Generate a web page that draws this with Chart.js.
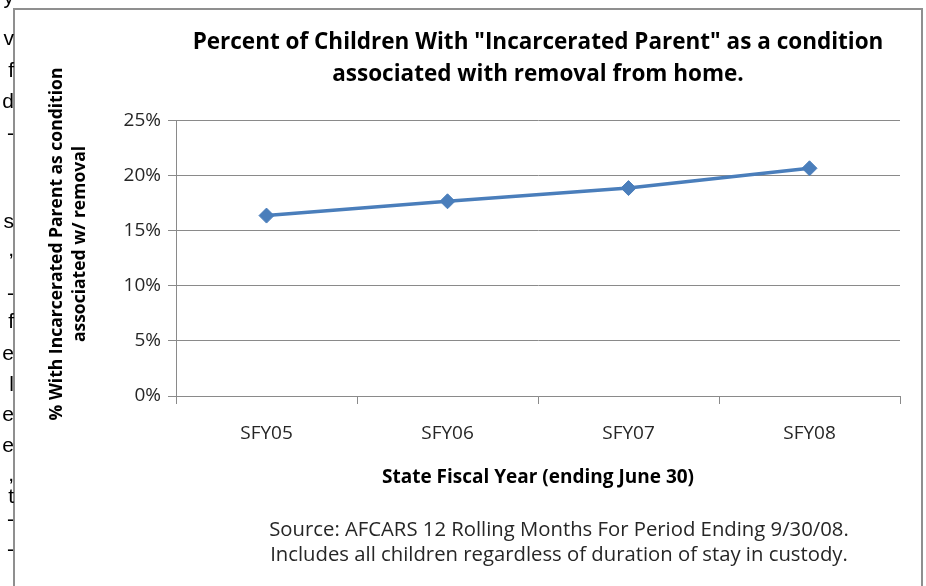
<!DOCTYPE html>
<html>
<head>
<meta charset="utf-8">
<script src="https://cdn.jsdelivr.net/npm/chart.js@4.4.1/dist/chart.umd.min.js"></script>
<style>
html,body{margin:0;padding:0;background:#fff;width:926px;height:586px;overflow:hidden;}
#wrap{position:relative;width:926px;height:586px;}
#c{position:absolute;left:0;top:0;}
#frame{position:absolute;left:13px;top:8px;width:910px;height:620px;border:2px solid #8f8f8f;box-sizing:border-box;pointer-events:none;}
.frag{position:absolute;left:0px;width:14px;text-align:right;font-family:"Liberation Sans",Arial,sans-serif;font-size:21px;line-height:21px;color:#000;}
#source{position:absolute;left:259px;width:600px;top:516px;text-align:center;font-family:"Open Sans",sans-serif;font-size:20.3px;line-height:25px;color:#262626;white-space:nowrap;}
</style>
</head>
<body>
<div id="wrap">
<canvas id="c" width="926" height="586"></canvas>
<div id="frame"></div>
<div id="frags"></div>
<div id="source"></div>
</div>
<script>
// ---- data ----
const categories = ['SFY05', 'SFY06', 'SFY07', 'SFY08'];
const percentValues = [16.4, 17.7, 18.9, 20.7];
const yTickLabels = ['0%', '5%', '10%', '15%', '20%', '25%'];
const chartTitle = ['Percent of Children With "Incarcerated Parent" as a condition', 'associated with removal from home.'];
const yAxisTitle = ['% With Incarcerated Parent as condition', 'associated w/ removal'];
const xAxisTitle = 'State Fiscal Year (ending June 30)';
const sourceLines = ['Source: AFCARS 12 Rolling Months For Period Ending 9/30/08.', 'Includes all children regardless of duration of stay in custody.'];
const pageFragments = ['y', 'v', 'f', 'd', '-', 's', ',', '-', 'f', 'e', 'l', 'e', 'e', ',', 't', '-', '-'];
const fragmentBaselines = [4, 45, 77, 108, 140, 228, 256, 300, 328, 360, 391, 421, 452, 481, 503, 526, 556];

// ---- page text around the chart ----
const fragBox = document.getElementById('frags');
pageFragments.forEach((t, i) => {
  const s = document.createElement('div');
  s.className = 'frag';
  s.textContent = t;
  s.style.top = (fragmentBaselines[i] - 18) + 'px';
  fragBox.appendChild(s);
});
document.getElementById('source').innerHTML = sourceLines.map(l => '<div>' + l + '</div>').join('');

// ---- y axis title, drawn left of the axis and centred like the original ----
const yTitlePlugin = {
  id: 'yTitleText',
  afterDraw(chart) {
    const ctx = chart.ctx;
    ctx.save();
    ctx.translate(57, 244);
    ctx.rotate(-Math.PI / 2);
    ctx.font = 'bold 17.5px "Open Sans"';
    ctx.fillStyle = '#000';
    ctx.textAlign = 'center';
    ctx.textBaseline = 'middle';
    yAxisTitle.forEach((t, i) => ctx.fillText(t, 0, i * 23));
    ctx.restore();
  }
};

// ---- chart ----
const gridGrey = '#8a8a8a';
const blue = '#4a7ebb';
new Chart(document.getElementById('c'), {
  type: 'line',
  data: {
    labels: categories,
    datasets: [{
      data: percentValues,
      borderColor: blue,
      backgroundColor: blue,
      borderWidth: 3.5,
      pointStyle: 'rectRot',
      pointRadius: 7.5,
      pointBackgroundColor: blue,
      pointBorderColor: blue,
      pointBorderWidth: 1,
      tension: 0,
      fill: false
    }]
  },
  options: {
    responsive: false,
    animation: false,
    layout: { padding: { left: 34, right: 26, top: 0, bottom: 90 } },
    plugins: {
      legend: { display: false },
      tooltip: { enabled: false },
      title: {
        display: true,
        text: chartTitle,
        fullSize: false,
        color: '#000',
        font: { family: 'Open Sans', size: 22.5, weight: 'bold', lineHeight: 1.422 },
        padding: { top: 27, bottom: 30 }
      }
    },
    scales: {
      x: {
        type: 'category',
        offset: true,
        grid: { display: true, drawOnChartArea: false, drawTicks: true, tickLength: 8, color: gridGrey, offset: true },
        border: { display: true, color: gridGrey, width: 1 },
        ticks: { color: '#262626', padding: 18, font: { family: 'Open Sans', size: 19, lineHeight: 1.2 } },
        title: {
          display: true,
          text: xAxisTitle,
          color: '#000',
          font: { family: 'Open Sans', size: 19, weight: 'bold', lineHeight: 1.2 },
          padding: { top: 18, bottom: 6.6 }
        },
        afterFit: (s) => { s.height = 100; }
      },
      y: {
        min: 0,
        max: 25,
        grid: { color: gridGrey, tickLength: 8, drawTicks: true },
        border: { display: true, color: gridGrey, width: 1 },
        ticks: {
          stepSize: 5,
          padding: 7,
          color: '#262626',
          font: { family: 'Open Sans', size: 19 },
          callback: (v, i) => yTickLabels[i]
        },
        title: { display: false },
        afterFit: (s) => { s.width = 142; }
      }
    }
  },
  plugins: [yTitlePlugin]
});
</script>
</body>
</html>
